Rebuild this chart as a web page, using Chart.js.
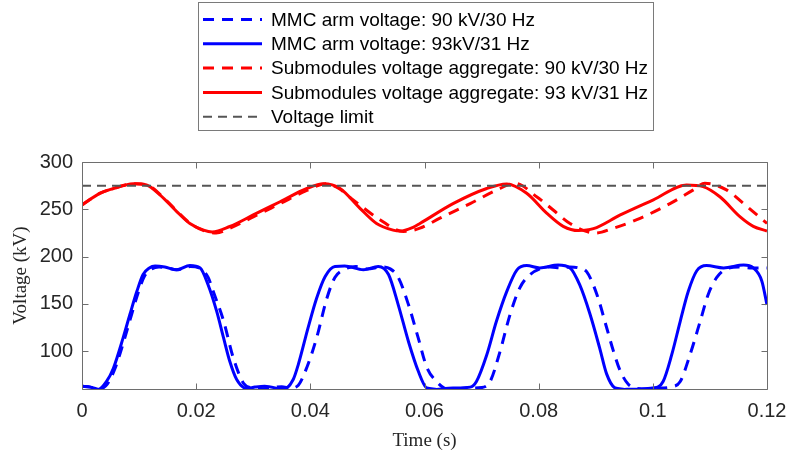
<!DOCTYPE html>
<html>
<head>
<meta charset="utf-8">
<script src="https://cdn.jsdelivr.net/npm/chart.js@4.4.1/dist/chart.umd.min.js"></script>
<style>
  html, body { margin: 0; padding: 0; background: #ffffff; }
  #wrap { width: 790px; height: 460px; position: relative; }
</style>
</head>
<body>
<div id="wrap"><canvas id="c" width="790" height="460"></canvas></div>
<script>
// Axis ticks
const xTicks = [0, 0.02, 0.04, 0.06, 0.08, 0.1, 0.12];
const yTicks = [100, 150, 200, 250, 300];

// MMC arm voltage, 90 kV / 30 Hz (dashed blue)
const arm30T = [0, 0.0015, 0.003, 0.0044, 0.0058, 0.0075, 0.0087, 0.0099, 0.011, 0.0122, 0.0135, 0.015, 0.0165, 0.019, 0.0205, 0.0221, 0.023, 0.0248, 0.0265, 0.0283, 0.0297,
  0.031, 0.033, 0.035, 0.0365, 0.0379, 0.0394, 0.0411, 0.0429, 0.0443, 0.0458, 0.048, 0.05, 0.0525, 0.054, 0.0554, 0.0572, 0.0589, 0.0604, 0.0621, 0.0635,
  0.065, 0.0675, 0.07, 0.0715, 0.0732, 0.075, 0.0767, 0.0785, 0.0802, 0.082, 0.084, 0.0855, 0.087, 0.0884, 0.0902, 0.0919, 0.0931, 0.0943, 0.0957, 0.097,
  0.099, 0.1015, 0.103, 0.1048, 0.1065, 0.1083, 0.1097, 0.1112, 0.1129, 0.115, 0.117, 0.12];
const arm30V = [63, 62, 60, 65, 82, 114, 139, 163, 180, 187, 189, 188, 186, 189.5, 188, 178, 163, 132, 93, 66, 61,
  60, 61, 62.5, 61, 64, 83, 114, 156, 178, 186, 189.5, 187, 189, 187, 178, 149, 114, 83, 68, 61,
  60, 61, 61.5, 68, 99, 139, 167, 181, 187, 189, 188, 189, 188, 184, 160, 125, 100, 79, 65, 61,
  60, 61, 62, 68, 96, 131.6, 160, 178, 187, 189, 188, 188];

// MMC arm voltage, 93 kV / 31 Hz (solid blue)
const arm31T = [0, 0.0015, 0.0029, 0.0043, 0.0055, 0.0072, 0.0084, 0.0096, 0.0107, 0.0118, 0.0128, 0.0145, 0.0166, 0.0189, 0.0207, 0.0221, 0.0236, 0.0248, 0.0259, 0.0271, 0.0289,
  0.0303, 0.032, 0.0353, 0.037, 0.0379, 0.0396, 0.0411, 0.0426, 0.0443, 0.046, 0.0493, 0.0519, 0.0537, 0.0554, 0.0572, 0.0589, 0.0604,
  0.0621, 0.065, 0.068, 0.0691, 0.0709, 0.0726, 0.0744, 0.0762, 0.0779, 0.0802, 0.0834, 0.0855, 0.0872, 0.089, 0.0907, 0.0919, 0.0934,
  0.095, 0.0975, 0.1, 0.1018, 0.1033, 0.1048, 0.1062, 0.1077, 0.1094, 0.1124, 0.1159, 0.1176, 0.1191, 0.12];
const arm31V = [63, 62, 59.5, 68, 82, 114, 139, 163, 181, 188, 190, 189, 186, 190.5, 188, 170, 142, 114, 89, 70, 60.5,
  62, 63, 59.5, 70, 86, 124.6, 156, 179, 189.6, 190, 186, 189.6, 181, 149, 110, 79, 61,
  59.5, 61, 62, 68, 96, 131.6, 163, 186, 190.5, 188, 191, 188, 170, 139, 103, 76, 61,
  59.5, 60, 61, 68, 96, 131.6, 163, 185, 190.5, 188, 191, 188, 174, 149];

// Submodules voltage aggregate, 90 kV / 30 Hz (dashed red)
const sm30T = [0, 0.0032, 0.0055, 0.0078, 0.0095, 0.0118, 0.014, 0.0168, 0.0192, 0.0215, 0.0235, 0.0259, 0.03, 0.0347, 0.0394, 0.0427, 0.045, 0.0475, 0.0522, 0.0563, 0.0592,
  0.0627, 0.068, 0.0727, 0.0759, 0.0797, 0.0826, 0.0855, 0.0899, 0.0931, 0.0972, 0.103, 0.1071, 0.1091, 0.1129, 0.1159, 0.12];
const sm30V = [254.6, 267, 272, 276, 277, 274.5, 264, 247, 234, 227, 225, 230, 242, 256, 270, 277, 272, 260, 239, 226.5, 230,
  240.6, 256, 270.5, 277.5, 263, 249, 235, 224.8, 230, 239, 256, 270.5, 277.5, 270.5, 256, 235];

// Submodules voltage aggregate, 93 kV / 31 Hz (solid red)
const sm31T = [0, 0.0032, 0.0055, 0.0075, 0.009, 0.0113, 0.0137, 0.0166, 0.0189, 0.0213, 0.0228, 0.0259, 0.03, 0.0347, 0.0394, 0.0423, 0.0452, 0.0487, 0.0516, 0.0545, 0.0557, 0.058,
  0.0592, 0.065, 0.0709, 0.0744, 0.0779, 0.0814, 0.0843, 0.087, 0.0896, 0.0943, 0.1001, 0.1059, 0.1088, 0.1118, 0.1153, 0.1176, 0.12];
const sm31V = [254.6, 267, 272, 275.5, 277, 275.7, 265, 247.6, 235, 228, 226, 231.8, 244, 258, 272, 277, 272, 251, 235, 228, 227, 231,
  235, 256, 272, 276.8, 267, 246, 232, 227.5, 229.5, 244, 260, 275.7, 274, 263, 242, 232, 227];

// Voltage limit
const limitT = [0, 0.12];
const limitV = [275, 275];

const pts = (t, v) => t.map((x, i) => ({ x: x, y: v[i] }));

const SANS = '"Liberation Sans", Arial, Helvetica, sans-serif';
const SERIF = '"Liberation Serif", "Times New Roman", Times, serif';

// Axes frame with inward tick marks on all four sides
const framePlugin = {
  id: 'frame',
  afterDraw(chart) {
    const { ctx, chartArea: a, scales } = chart;
    const L = Math.round(a.left) + 0.5, R = Math.round(a.right) + 0.5;
    const T = Math.round(a.top) + 0.5, B = Math.round(a.bottom) + 0.5;
    ctx.save();
    ctx.strokeStyle = '#6e6e6e';
    ctx.lineWidth = 1;
    ctx.beginPath();
    ctx.rect(L, T, R - L, B - T);
    const tl = 6;
    xTicks.forEach(v => {
      const px = Math.round(scales.x.getPixelForValue(v)) + 0.5;
      ctx.moveTo(px, B); ctx.lineTo(px, B - tl);
      ctx.moveTo(px, T); ctx.lineTo(px, T + tl);
    });
    yTicks.forEach(v => {
      const py = Math.round(scales.y.getPixelForValue(v)) + 0.5;
      ctx.moveTo(L, py); ctx.lineTo(L + tl, py);
      ctx.moveTo(R, py); ctx.lineTo(R - tl, py);
    });
    ctx.stroke();
    ctx.restore();
  }
};

// Boxed legend above the axes
const legendPlugin = {
  id: 'boxLegend',
  afterDraw(chart) {
    const { ctx } = chart;
    const box = { x: 198.5, y: 2.5, w: 455, h: 128 };
    ctx.save();
    ctx.fillStyle = '#ffffff';
    ctx.fillRect(box.x, box.y, box.w, box.h);
    ctx.strokeStyle = '#7a7a7a';
    ctx.lineWidth = 1;
    ctx.strokeRect(box.x, box.y, box.w, box.h);
    ctx.font = '19px ' + SANS;
    ctx.textBaseline = 'middle';
    ctx.textAlign = 'left';
    chart.data.datasets.forEach((ds, i) => {
      const cy = 19.5 + i * 24.3;
      ctx.beginPath();
      ctx.setLineDash(ds.borderDash || []);
      ctx.strokeStyle = ds.borderColor;
      ctx.lineWidth = ds.borderWidth;
      ctx.moveTo(203, cy);
      ctx.lineTo(262, cy);
      ctx.stroke();
      ctx.setLineDash([]);
      ctx.fillStyle = '#000000';
      ctx.fillText(ds.label, 271, cy + 1);
    });
    ctx.restore();
  }
};

const common = { pointRadius: 0, pointHoverRadius: 0, fill: false, cubicInterpolationMode: 'monotone' };

new Chart(document.getElementById('c'), {
  type: 'line',
  data: {
    datasets: [
      { ...common, label: 'MMC arm voltage: 90 kV/30 Hz', data: pts(arm30T, arm30V), borderColor: '#0000ff', borderWidth: 3, borderDash: [11, 8], order: 5 },
      { ...common, label: 'MMC arm voltage: 93kV/31 Hz', data: pts(arm31T, arm31V), borderColor: '#0000ff', borderWidth: 3, order: 4 },
      { ...common, label: 'Submodules voltage aggregate: 90 kV/30 Hz', data: pts(sm30T, sm30V), borderColor: '#ff0000', borderWidth: 3, borderDash: [11, 8], order: 3 },
      { ...common, label: 'Submodules voltage aggregate: 93 kV/31 Hz', data: pts(sm31T, sm31V), borderColor: '#ff0000', borderWidth: 3, order: 2 },
      { ...common, label: 'Voltage limit', data: pts(limitT, limitV), borderColor: '#555555', borderWidth: 2, borderDash: [9, 6], cubicInterpolationMode: 'default', order: 1 }
    ]
  },
  options: {
    responsive: false,
    animation: false,
    devicePixelRatio: 1,
    layout: { padding: { top: 162, right: 23, bottom: 0, left: 0 } },
    plugins: { legend: { display: false }, tooltip: { enabled: false }, title: { display: false } },
    scales: {
      x: {
        type: 'linear',
        min: 0, max: 0.12,
        afterFit: s => { s.height = 71; s.paddingLeft = 0; s.paddingRight = 0; },
        afterBuildTicks: s => { s.ticks = xTicks.map(v => ({ value: v })); },
        grid: { display: false, drawTicks: false },
        border: { display: false },
        ticks: {
          padding: 10,
          color: '#262626',
          font: { family: SANS, size: 20 },
          maxRotation: 0,
          callback: v => String(+Number(v).toFixed(2))
        },
        title: { display: true, text: 'Time (s)', color: '#262626', font: { family: SERIF, size: 19 }, padding: { top: 0, bottom: 8 } }
      },
      y: {
        type: 'linear',
        min: 60, max: 300,
        afterFit: s => { s.width = 82; s.paddingTop = 0; s.paddingBottom = 0; },
        afterBuildTicks: s => { s.ticks = yTicks.map(v => ({ value: v })); },
        grid: { display: false, drawTicks: false },
        border: { display: false },
        ticks: {
          padding: 9,
          color: '#262626',
          font: { family: SANS, size: 20 },
          callback: v => String(v)
        },
        title: { display: true, text: 'Voltage (kV)', color: '#262626', font: { family: SERIF, size: 19 }, padding: { top: 10, bottom: 0 } }
      }
    }
  },
  plugins: [framePlugin, legendPlugin]
});
</script>
</body>
</html>
